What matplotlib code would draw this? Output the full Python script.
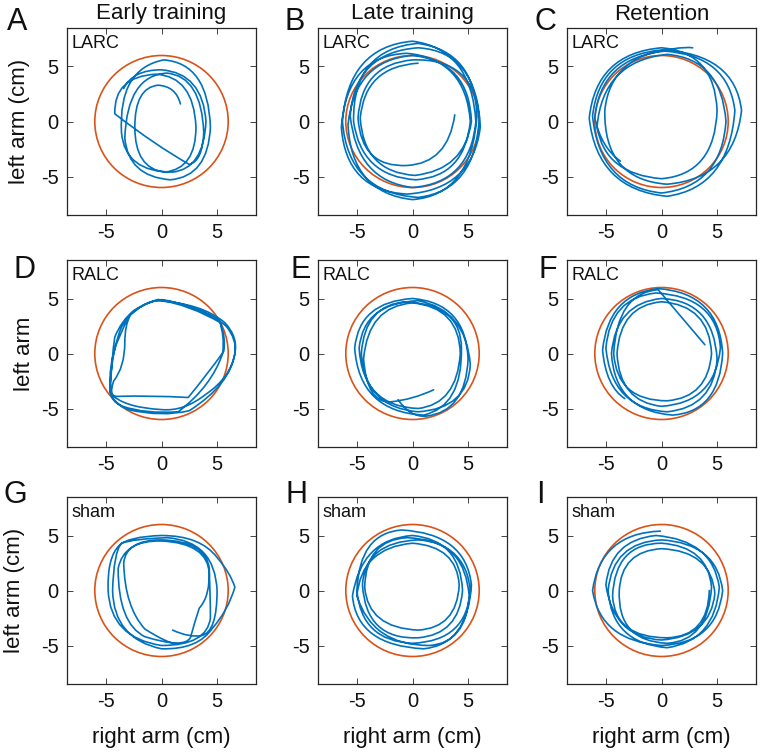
import matplotlib
matplotlib.use('Agg')
import matplotlib.pyplot as plt
from matplotlib.path import Path
from matplotlib.patches import PathPatch, Circle

plt.rcParams['font.family'] = ['Liberation Sans', 'DejaVu Sans']
plt.rcParams['axes.unicode_minus'] = False

# ---- data (path vertices: start point, then (control, on-curve) pairs) ----
COLUMN_TITLES = ["Early training", "Late training", "Retention"]
ROW_TAGS = ["LARC", "RALC", "sham"]
PANEL_LETTERS = ["A", "B", "C", "D", "E", "F", "G", "H", "I"]
TICKS = [-5, 0, 5]
TARGET_RADIUS = 6.0

TRACE_A = [
    (-3.4, 3.0),
    (-2.6, 4.7), (0.0, 4.7),
    (3.7, 4.4), (4.0, 0.0),
    (3.8, -4.3), (1.0, -4.6),
    (-3.3, -4.6), (-3.6, -1.0),
    (-3.9, 4.8), (0.2, 5.6),
    (4.2, 5.3), (4.4, -0.5),
    (4.2, -5.0), (0.8, -5.3),
    (-3.0, -5.0), (-3.3, -1.5),
    (-3.1, 4.2), (0.5, 4.4),
    (3.6, 4.1), (3.8, -1.0),
    (3.7, -3.6), (2.5, -3.9),
    (-0.5, -2.2), (-4.2, 0.7),
    (-4.3, 4.1), (-0.5, 4.3),
    (2.9, 4.1), (3.1, -0.5),
    (3.1, -4.3), (0.3, -4.6),
    (-2.4, -4.3), (-2.4, -0.5),
    (-2.4, 3.1), (-0.3, 3.3),
    (1.3, 3.2), (1.7, 1.6),
]

TRACE_B = [
    (3.8, 0.6),
    (3.2, -3.8), (-0.5, -4.0),
    (-4.6, -4.2), (-4.9, 0.3),
    (-4.6, 5.2), (0.0, 5.6),
    (5.6, 5.8), (6.0, 0.3),
    (5.7, -6.3), (0.5, -6.9),
    (-5.8, -6.5), (-6.3, 0.0),
    (-5.8, 6.8), (0.0, 7.3),
    (5.3, 6.6), (5.7, 0.0),
    (5.2, -5.6), (0.0, -6.0),
    (-5.0, -5.4), (-5.6, 0.5),
    (-5.2, 6.3), (0.5, 6.7),
    (5.8, 6.4), (6.1, -0.5),
    (5.4, -6.2), (-0.5, -6.6),
    (-6.0, -6.3), (-6.4, -0.5),
    (-5.9, 6.0), (-0.5, 6.2),
    (4.8, 5.7), (5.2, 0.0),
    (4.7, -5.0), (0.3, -5.3),
    (-4.6, -5.0), (-5.3, 0.0),
    (-5.4, 6.6), (0.5, 7.1),
    (5.6, 6.4), (5.8, 0.5),
    (5.3, -6.7), (0.0, -7.1),
    (-5.5, -6.5), (-5.8, -0.3),
    (-5.2, 5.6), (0.0, 6.0),
    (5.1, 5.5), (5.3, 0.0),
    (4.7, -4.4), (0.2, -4.9),
    (-4.4, -4.6), (-4.7, 0.3),
    (-4.3, 5.0), (0.5, 5.3),
]

TRACE_C = [
    (-3.7, -3.6),
    (-5.4, -2.4), (-6.0, 0.3),
    (-5.5, 5.8), (0.3, 6.4),
    (6.0, 6.0), (6.6, 1.0),
    (6.1, -6.0), (0.5, -6.8),
    (-5.8, -6.2), (-6.5, 0.3),
    (-5.9, 6.2), (0.0, 6.7),
    (4.8, 6.3), (5.0, 1.0),
    (4.8, -4.8), (0.0, -5.2),
    (-5.1, -4.8), (-5.8, -0.5),
    (-5.3, 5.5), (0.5, 6.1),
    (5.4, 5.7), (5.8, 0.0),
    (5.4, -5.9), (0.0, -6.5),
    (-5.6, -5.9), (-6.2, 0.5),
    (-5.6, 6.0), (0.0, 6.5),
    (6.6, 6.2), (7.2, 1.0),
    (6.5, -5.2), (0.5, -5.7),
    (-5.2, -5.3), (-5.1, 1.0),
    (-4.6, 6.0), (1.0, 6.6),
    (2.2, 6.8), (2.8, 6.7),
]

TRACE_D = [
    (-0.3, 4.9),
    (2.6, 4.4), (5.3, 2.8),
    (5.8, 1.4), (5.6, 0.2),
    (4.2, -1.8), (2.4, -4.0),
    (-1.0, -3.8), (-4.0, -3.9),
    (-4.8, -3.9), (-4.3, -2.5),
    (-3.3, -1.2), (-3.3, 1.0),
    (-3.3, 2.6), (-2.8, 3.5),
    (-1.6, 4.6), (-0.5, 4.8),
    (3.6, 4.6), (5.7, 2.8),
    (6.9, 1.5), (6.6, 0.0),
    (6.2, -2.8), (2.5, -5.2),
    (0.0, -5.8), (-3.0, -5.1),
    (-4.7, -4.4), (-4.6, -3.3),
    (-4.5, -0.5), (-4.2, 1.5),
    (-3.6, 3.0), (-2.5, 3.9),
    (-1.3, 4.7), (0.0, 4.9),
    (2.8, 4.5), (5.2, 3.0),
    (5.7, 1.6), (5.5, 0.0),
    (4.5, -3.0), (1.5, -5.3),
    (-1.5, -5.5), (-3.5, -4.8),
    (-4.8, -4.2), (-4.6, -2.5),
    (-4.4, 0.5), (-3.6, 2.4),
    (-2.5, 4.4), (-0.3, 4.9),
    (3.6, 4.4), (5.8, 2.5),
    (6.8, 1.3), (6.6, 0.0),
    (6.2, -2.2), (4.0, -3.7),
    (2.0, -5.3), (0.0, -5.1),
    (-3.5, -4.9), (-4.6, -3.6),
    (-4.8, -1.0), (-4.0, 1.0),
    (-3.4, 2.4), (-3.0, 3.3),
]

TRACE_E = [
    (-1.3, -4.2),
    (-0.2, -5.8), (1.2, -5.7),
    (4.8, -5.3), (5.0, -0.5),
    (4.8, 4.6), (0.0, 5.0),
    (-4.8, 4.7), (-5.2, 0.5),
    (-4.8, -5.3), (1.0, -5.6),
    (4.5, -4.8), (4.4, 0.5),
    (4.4, 4.4), (-0.5, 4.7),
    (-4.3, 4.5), (-4.6, 0.0),
    (-4.3, -4.9), (0.5, -5.3),
    (5.0, -5.0), (5.2, -1.0),
    (4.8, 4.0), (0.5, 4.8),
    (-4.4, 4.6), (-4.8, 0.5),
    (-4.5, -4.8), (0.5, -5.0),
    (4.0, -4.6), (4.3, 0.0),
    (4.2, 4.2), (0.0, 4.6),
    (-4.0, 4.3), (-4.4, -0.5),
    (-4.1, -4.5), (-2.0, -4.4),
    (0.0, -4.2), (1.9, -3.3),
]

TRACE_F = [
    (-3.3, -4.1),
    (-5.0, -3.0), (-5.3, 0.3),
    (-4.8, 5.4), (-0.3, 5.9),
    (5.2, 5.5), (5.5, 0.0),
    (5.2, -5.3), (1.0, -5.6),
    (-4.2, -5.2), (-4.5, 0.0),
    (-4.1, 4.6), (0.0, 5.0),
    (4.7, 4.8), (5.0, -0.5),
    (4.7, -4.9), (0.5, -5.3),
    (-4.5, -5.0), (-5.0, 0.5),
    (-4.6, 5.1), (-0.5, 5.5),
    (5.0, 5.2), (5.3, 0.5),
    (4.8, -4.5), (0.0, -4.8),
    (-3.8, -4.4), (-4.0, 0.0),
    (-3.7, 4.4), (0.0, 4.7),
    (4.3, 4.4), (4.5, 0.0),
    (4.2, -4.0), (0.5, -4.3),
    (-4.0, -4.3), (-4.3, 0.0),
    (-4.0, 5.5), (-0.3, 5.8),
    (1.8, 3.3), (3.9, 0.8),
]

TRACE_G = [
    (1.0, -3.6),
    (2.5, -4.3), (3.6, -4.1),
    (5.0, -3.8), (5.0, 0.0),
    (4.8, 4.5), (0.5, 4.8),
    (-2.5, 4.7), (-3.6, 4.3),
    (-4.3, 3.5), (-4.4, 0.0),
    (-4.3, -4.4), (0.0, -5.3),
    (3.3, -5.4), (4.6, -3.4),
    (6.0, -1.8), (6.6, 0.3),
    (6.2, 1.6), (5.0, 3.0),
    (3.5, 5.0), (0.0, 5.0),
    (-3.0, 4.9), (-3.8, 4.1),
    (-4.9, 3.0), (-4.8, 0.0),
    (-4.6, -4.3), (0.0, -5.0),
    (4.1, -5.0), (4.4, -2.5),
    (4.4, -0.5), (4.3, 1.5),
    (4.2, 4.3), (0.0, 4.5),
    (-3.4, 4.6), (-3.9, 2.0),
    (-3.9, -3.0), (-1.5, -4.2),
    (2.0, -5.3), (2.6, -4.3),
    (3.0, -2.8), (3.4, -1.6),
    (4.4, -0.5), (4.3, 2.0),
    (4.0, 4.5), (0.0, 4.6),
    (-3.2, 4.6), (-3.4, 2.5),
    (-3.3, -1.5), (-1.5, -3.5),
    (0.5, -4.8), (1.5, -4.9),
]

TRACE_H = [
    (-5.0, 0.0),
    (-4.8, 5.2), (-1.0, 5.5),
    (4.8, 5.2), (5.3, 0.5),
    (5.0, -4.9), (1.0, -5.3),
    (-5.0, -5.0), (-5.4, -0.5),
    (-4.6, 4.7), (0.0, 5.0),
    (4.3, 4.6), (4.5, 0.0),
    (4.2, -4.0), (0.5, -4.3),
    (-4.2, -4.5), (-4.5, 0.5),
    (-4.3, 4.4), (0.5, 4.6),
    (4.7, 4.4), (5.1, -0.5),
    (4.8, -4.8), (1.5, -5.0),
    (-3.6, -5.0), (-5.0, -0.5),
    (-4.6, 3.9), (0.0, 4.3),
    (4.0, 4.0), (4.2, 0.5),
    (4.0, -3.4), (0.5, -3.6),
    (-4.0, -3.4), (-4.3, 0.3),
    (-4.2, 4.6), (-0.5, 4.8),
    (4.8, 4.6), (5.2, 0.0),
    (4.9, -4.6), (0.0, -4.8),
    (-4.6, -4.6), (-5.0, 0.0),
]

TRACE_I = [
    (-0.1, 5.4),
    (-5.5, 5.2), (-6.2, 0.0),
    (-5.5, -4.6), (0.0, -5.0),
    (5.0, -4.8), (5.5, 0.0),
    (5.0, 4.3), (0.0, 4.6),
    (-4.4, 4.4), (-4.8, 0.0),
    (-4.5, -4.8), (0.5, -5.2),
    (4.8, -4.6), (5.2, 0.3),
    (4.6, 4.6), (-0.5, 5.0),
    (-4.6, 4.6), (-5.0, 0.5),
    (-4.3, -4.3), (0.0, -4.5),
    (4.4, -4.2), (4.8, -0.3),
    (4.5, 3.6), (0.0, 3.8),
    (-3.6, 3.6), (-3.8, 0.0),
    (-4.0, -4.6), (0.5, -4.8),
    (4.2, -4.6), (4.5, 0.3),
    (4.2, 4.0), (0.0, 4.3),
    (-4.2, 4.3), (-4.4, -0.5),
    (-4.2, -4.3), (0.5, -4.3),
    (4.2, -4.2), (4.3, 0.0),
]

TRACES = [TRACE_A, TRACE_B, TRACE_C, TRACE_D, TRACE_E, TRACE_F, TRACE_G, TRACE_H, TRACE_I]

# ---- style / layout ----
BLUE = '#0072BD'
ORANGE = '#D95319'
FRAME = '#262626'
TEXT = '#111111'
W, H = 762, 752
COL_LEFT = [67, 318, 567]
ROW_TOP = [28, 260, 497]
AX_W, AX_H = 189, 187
LETTER_POS = [(17, 22), (295, 22), (545, 22),
              (24, 270), (301, 270), (548, 270),
              (15, 495), (297, 495), (540, 495)]
YLABELS = ["left arm (cm)", "left arm", "left arm (cm)"]
YLABEL_X = [20, 24, 15]

fig = plt.figure(figsize=(W / 100, H / 100), dpi=100)

for k, trace in enumerate(TRACES):
    r, c = divmod(k, 3)
    left = COL_LEFT[c] / W
    bottom = 1 - (ROW_TOP[r] + AX_H) / H
    ax = fig.add_axes([left, bottom, AX_W / W, AX_H / H])
    ax.add_patch(Circle((0, 0), TARGET_RADIUS, fill=False, ec=ORANGE, lw=1.2, zorder=2))
    codes = [Path.MOVETO] + [Path.CURVE3] * (len(trace) - 1)
    ax.add_patch(PathPatch(Path(trace, codes), fill=False, ec=BLUE, lw=1.2,
                           capstyle='round', joinstyle='round', zorder=3))
    ax.set_xlim(-8.5, 8.5)
    ax.set_ylim(-8.5, 8.5)
    ax.set_xticks(TICKS)
    ax.set_yticks(TICKS)
    ax.set_xticklabels([str(t) for t in TICKS])
    ax.set_yticklabels([str(t) for t in TICKS])
    ax.tick_params(direction='in', top=True, right=True, length=4, width=0.6,
                   color=FRAME, labelsize=14.5, labelcolor=TEXT)
    ax.tick_params(axis='x', pad=6)
    ax.tick_params(axis='y', pad=6)
    for s in ax.spines.values():
        s.set_color(FRAME)
        s.set_linewidth(0.9)
    ax.text(0.025, 0.965, ROW_TAGS[r], transform=ax.transAxes, ha='left', va='top',
            fontsize=13, color=TEXT)
    lx, ly = LETTER_POS[k]
    fig.text(lx / W, 1 - ly / H, PANEL_LETTERS[k], fontsize=22, ha='center', va='center',
             color=TEXT)

for c in range(3):
    fig.text((COL_LEFT[c] + AX_W / 2) / W, 1 - 14 / H, COLUMN_TITLES[c], fontsize=16,
             ha='center', va='center', color=TEXT)
    fig.text((COL_LEFT[c] + AX_W / 2) / W, 1 - 737 / H, "right arm (cm)", fontsize=16,
             ha='center', va='center', color=TEXT)

for r in range(3):
    fig.text(YLABEL_X[r] / W, 1 - (ROW_TOP[r] + AX_H / 2) / H, YLABELS[r], fontsize=16,
             rotation=90, ha='center', va='center', color=TEXT)

fig.savefig('out.png', dpi=100)
